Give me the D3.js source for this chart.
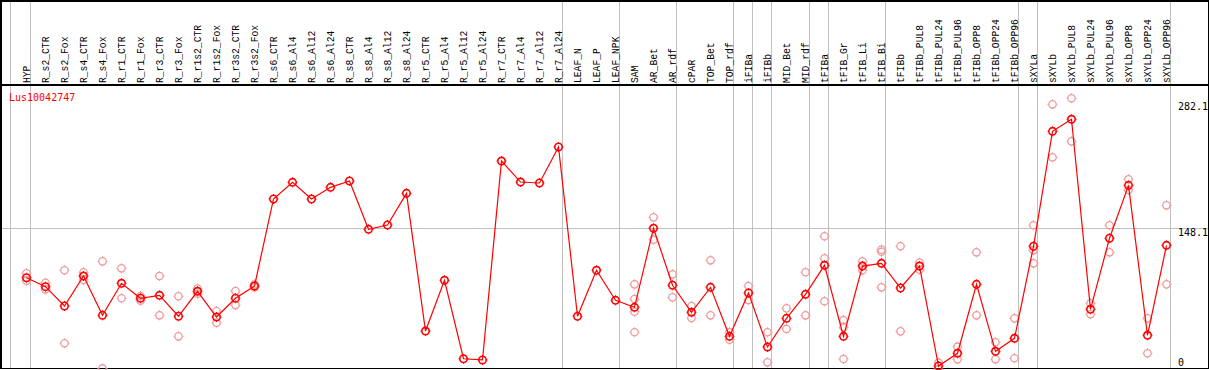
<!DOCTYPE html>
<html lang="en">
<head>
<meta charset="UTF-8">
<title>Lus10042747</title>
<script src="https://d3js.org/d3.v7.min.js"></script>
<style>
    body { margin: 0; background: #fff; }
    text { font-family: "DejaVu Sans Mono", monospace; font-size: 10px; }
    text.lab { font-family: "Liberation Mono", monospace; font-size: 11px; }
    .grid { stroke: #c0c0c0; stroke-width: 1; shape-rendering: crispEdges; }
    .frame { stroke: #000; stroke-width: 1.5; shape-rendering: crispEdges; }
</style>
</head>
<body>
<svg width="1209" height="370"></svg>
<script>
// sample names (one column each)
const samples = ["HYP", "R_s2_CTR", "R_s2_Fox", "R_s4_CTR", "R_s4_Fox", "R_r1_CTR", "R_r1_Fox",
    "R_r3_CTR", "R_r3_Fox", "R_r1s2_CTR", "R_r1s2_Fox", "R_r3s2_CTR", "R_r3s2_Fox",
    "R_s6_CTR", "R_s6_Al4", "R_s6_Al12", "R_s6_Al24", "R_s8_CTR", "R_s8_Al4", "R_s8_Al12", "R_s8_Al24",
    "R_r5_CTR", "R_r5_Al4", "R_r5_Al12", "R_r5_Al24", "R_r7_CTR", "R_r7_Al4", "R_r7_Al12", "R_r7_Al24",
    "LEAF_N", "LEAF_P", "LEAF_NPK", "SAM", "AR_Bet", "AR_rdf", "cPAR", "TOP_Bet", "TOP_rdf",
    "iFIBa", "iFIBb", "MID_Bet", "MID_rdf", "tFIBa", "tFIB_Gr", "tFIB_Li", "tFIB_Bi", "tFIBb",
    "tFIBb_PUL8", "tFIBb_PUL24", "tFIBb_PUL96", "tFIBb_OPP8", "tFIBb_OPP24", "tFIBb_OPP96",
    "sXYLa", "sXYLb", "sXYLb_PUL8", "sXYLb_PUL24", "sXYLb_PUL96", "sXYLb_OPP8", "sXYLb_OPP24", "sXYLb_OPP96"];

// mean expression per sample
const means = [95.3, 85.8, 65.3, 97.1, 55.4, 89.4, 73.5, 76.6, 54.4, 80.9, 53.6, 73.5, 86.5,
    178.9, 196.6, 178.9, 191.3, 198.0, 146.7, 151.3, 184.9,
    38.7, 92.6, 9.3, 8.0, 219.2, 196.9, 195.9, 234.1,
    54.4, 103.2, 71.3, 63.9, 147.8, 87.3, 58.6, 85.1, 33.1,
    79.1, 21.8, 52.2, 77.7, 108.5, 33.1, 107.7, 110.6, 84.4,
    107.7, 1.6, 15.1, 88.3, 17.2, 31.0,
    128.7, 250.7, 263.5, 61.8, 137.2, 193.4, 34.2, 129.7];

// individual replicates per sample (empty where only the mean is drawn)
const replicates = [
    [100.0, 92.1], [90.0, 83.0], [103.2, 25.7], [101.1, 92.9], [112.7, -1.0], [105.3, 73.5],
    [75.9, 70.9], [97.1, 55.4], [75.6, 33.1], [83.7, 78.3], [60.0, 47.6], [81.2, 66.3], [88.3, 85.1],
    [], [], [], [], [], [], [], [],
    [], [], [], [], [], [], [], [],
    [], [], [], [88.3, 72.7, 59.2, 37.4], [159.4, 135.7], [98.9, 74.5], [65.3, 52.5],
    [113.8, 55.4], [37.4, 29.5],
    [86.5, 71.7], [37.4, 5.5], [62.8, 40.9], [101.1, 55.4], [139.3, 115.9, 70.3],
    [50.4, 42.7, 9.0], [112.7, 103.2], [125.1, 122.9, 85.1], [128.7, 38.4],
    [111.3, 103.8], [5.1, -1.9], [22.1, 8.7], [122.3, 55.4], [26.8, 8.7], [52.2, 9.8],
    [151.0, 124.4, 110.6], [279.4, 223.1], [285.8, 240.1], [68.2, 56.5], [151.0, 122.3],
    [199.8, 188.4], [52.2, 15.1], [172.2, 88.3]];

// last column of each tissue group (separator drawn after it)
const groupEnds = [0, 28, 31, 34, 37, 38, 39, 41, 42, 45, 52, 53, 60];

const tickValues = [0, 148.1, 282.1];
const geneName = "Lus10042747";

const W = 1209, H = 370;
const headerBottom = 85, plotBottom = 368;

const svg = d3.select("svg");

const x = d3.scaleLinear().domain([0, samples.length - 1]).range([26.5, 1166.5]);
const y = d3.scaleLinear().domain([0, 148.1]).range([367.5, 228]);

// horizontal reference line at mid tick
svg.append("line").attr("class", "grid")
    .attr("x1", 0).attr("x2", W)
    .attr("y1", Math.round(y(148.1)) + 0.5).attr("y2", Math.round(y(148.1)) + 0.5);

// vertical separators
svg.append("line").attr("class", "grid")
    .attr("x1", 10.5).attr("x2", 10.5).attr("y1", 0).attr("y2", plotBottom);
svg.selectAll("line.sep")
    .data(groupEnds)
    .enter().append("line")
    .attr("class", "grid sep")
    .attr("x1", d => Math.round(x(d) + 3.5) + 0.5)
    .attr("x2", d => Math.round(x(d) + 3.5) + 0.5)
    .attr("y1", 0).attr("y2", plotBottom);

// frame
svg.append("rect").attr("class", "frame")
    .attr("x", 0.75).attr("y", 0.75)
    .attr("width", W - 1.5).attr("height", plotBottom - 0.5)
    .attr("fill", "none");
svg.append("line").attr("class", "frame")
    .attr("x1", 0).attr("x2", W).attr("y1", headerBottom).attr("y2", headerBottom);

// rotated sample labels (squeezed along the text so 6px per char)
svg.selectAll("text.lab")
    .data(samples)
    .enter().append("text")
    .attr("class", "lab")
    .attr("transform", (d, i) => `translate(${x(i) + 3},83) rotate(-90) scale(0.88,1)`)
    .attr("fill", "#000")
    .text(d => d);

// axis values on the right
svg.selectAll("text.tick")
    .data(tickValues)
    .enter().append("text")
    .attr("class", "tick")
    .attr("x", 1178)
    .attr("y", d => d === 0 ? 366 : y(d) + 8)
    .attr("fill", "#000")
    .text(d => d === 0 ? "0" : d3.format(".1f")(d));

// gene name
svg.append("text")
    .attr("x", 9).attr("y", 101)
    .attr("fill", "#ff0000")
    .text(geneName);

// marker with small ticks at the four sides
function marker(g, cx, cy, color, width) {
    g.append("circle")
        .attr("cx", cx).attr("cy", cy).attr("r", 3.7)
        .attr("fill", "none").attr("stroke", color).attr("stroke-width", width);
    [[0, -1], [0, 1], [-1, 0], [1, 0]].forEach(([dx, dy]) => {
        g.append("line")
            .attr("x1", cx + dx * 4).attr("y1", cy + dy * 4)
            .attr("x2", cx + dx * 5).attr("y2", cy + dy * 5)
            .attr("stroke", color).attr("stroke-width", 1);
    });
}

// replicates
const repG = svg.append("g");
replicates.forEach((reps, i) => {
    reps.forEach(v => marker(repG, x(i), y(v), "#ef9a9a", 1.3));
});

// mean line
const line = d3.line().x((d, i) => x(i)).y(d => y(d));
svg.append("path")
    .datum(means)
    .attr("d", line)
    .attr("fill", "none")
    .attr("stroke", "#ff0000")
    .attr("stroke-width", 1.2);

// mean markers
const meanG = svg.append("g");
means.forEach((v, i) => marker(meanG, x(i), y(v), "#ff0000", 1.6));
</script>
</body>
</html>
